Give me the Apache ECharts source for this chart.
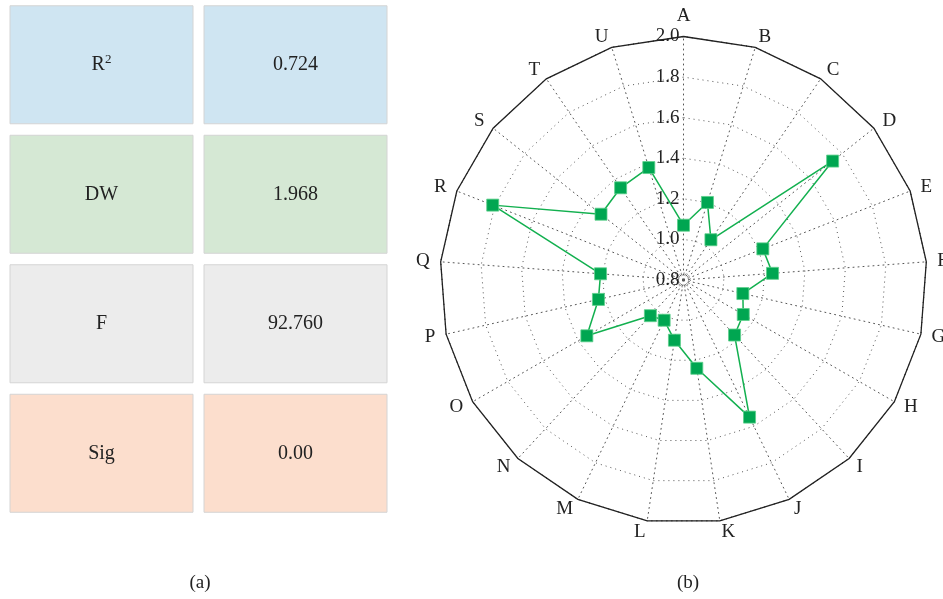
<!DOCTYPE html>
<html>
<head>
<meta charset="utf-8">
<script src="https://cdn.jsdelivr.net/npm/echarts@6/dist/echarts.min.js"></script>
<style>html,body{margin:0;padding:0;background:#fff}#c{width:943px;height:599px}</style>
</head>
<body>
<div id="c"></div>
<script>
// ---- data ----
const statNames = ['R{sup|2}', 'DW', 'F', 'Sig'];
const statValues = ['0.724', '1.968', '92.760', '0.00'];
const statColors = ['#cfe5f2', '#d5e8d4', '#ececec', '#fcdecd'];
const radarNames = ['A','B','C','D','E','F','G','H','I','J','K','L','M','N','O','P','Q','R','S','T','U'];
const radarValues = [1.07,1.20,1.04,1.74,1.22,1.24,1.10,1.14,1.17,1.55,1.24,1.10,1.02,1.04,1.35,1.23,1.21,1.81,1.32,1.35,1.38];
const radarMin = 0.8, radarMax = 2.0;
const panelLabels = ['(a)', '(b)'];

const serif = '"Liberation Serif", "DejaVu Serif", serif';
const chart = echarts.init(document.getElementById('c'), null, {renderer: 'canvas'});

// ECharts radar runs counter-clockwise: reorder so A is on top and B..U go clockwise
const order = [0].concat(radarNames.slice(1).map((_, i) => radarNames.length - 1 - i));
const indicators = order.map((idx, k) => {
  const o = {name: radarNames[idx], min: radarMin, max: radarMax};
  if (k === 0) o.axisLabel = {show: true};
  return o;
});
const orderedValues = order.map(idx => radarValues[idx]);

// table cells
const cellData = [];
statNames.forEach((n, r) => {
  cellData.push([0, r, n, statColors[r]]);
  cellData.push([1, r, statValues[r], statColors[r]]);
});

const option = {
  backgroundColor: '#fff',
  animation: false,
  title: [
    {text: panelLabels[0], left: 195, top: 569, textAlign: 'center',
     textStyle: {fontFamily: serif, fontSize: 19, fontWeight: 'normal', color: '#222'}},
    {text: panelLabels[1], left: 683, top: 569, textAlign: 'center',
     textStyle: {fontFamily: serif, fontSize: 19, fontWeight: 'normal', color: '#222'}}
  ],
  grid: {left: 4.5, top: 0, width: 388, height: 518},
  xAxis: {type: 'category', data: ['name', 'value'], show: false},
  yAxis: {type: 'category', data: statNames, inverse: true, show: false},
  radar: [
    {
      center: [683.5, 280], radius: 243.5, startAngle: 90,
      splitNumber: 6, shape: 'polygon',
      indicator: indicators,
      axisName: {color: '#222', fontFamily: serif, fontSize: 19},
      nameGap: 11,
      axisLine: {lineStyle: {color: '#555', type: [1, 4], width: 1}},
      axisTick: {show: false},
      axisLabel: {show: false, color: '#222', fontFamily: serif, fontSize: 19, margin: 4,
                  formatter: v => Number(v).toFixed(1)},
      splitLine: {lineStyle: {color: '#555', type: [1, 4], width: 1}},
      splitArea: {show: false}
    },
    {
      center: [683.5, 280], radius: 243.5, startAngle: 90,
      splitNumber: 1, shape: 'polygon',
      indicator: radarNames.map(n => ({name: '', min: 0, max: 1})),
      axisName: {show: false},
      axisLine: {show: false}, axisTick: {show: false}, axisLabel: {show: false},
      splitLine: {lineStyle: {color: '#222', width: 1.3}},
      splitArea: {show: false}
    },
    {
      center: [683.5, 280], radius: 7, startAngle: 90,
      splitNumber: 1, shape: 'circle',
      indicator: radarNames.map(n => ({name: '', min: 0, max: 1})),
      axisName: {show: false},
      axisLine: {show: false}, axisTick: {show: false}, axisLabel: {show: false},
      splitLine: {lineStyle: {color: '#666', type: [1, 2], width: 1}},
      splitArea: {show: false}
    }
  ],
  series: [
    {
      type: 'custom',
      coordinateSystem: 'cartesian2d',
      data: cellData,
      renderItem: function (params, api) {
        const p = api.coord([api.value(0), api.value(1)]);
        const sz = api.size([1, 1]);
        const w = sz[0] - 11, h = sz[1] - 11.5;
        const d = cellData[params.dataIndex];
        return {
          type: 'group',
          children: [
            {type: 'rect', shape: {x: p[0] - w / 2, y: p[1] - h / 2, width: w, height: h},
             style: {fill: d[3], stroke: '#d4d4d4', lineWidth: 1}},
            {type: 'text', x: p[0], y: p[1],
             style: {text: d[2], fill: '#222', font: '20px ' + serif, align: 'center', verticalAlign: 'middle',
               rich: {sup: {fontSize: 13, fontFamily: serif, fill: '#222', verticalAlign: 'bottom', padding: [0, 0, 10, 0]}}}}
          ]
        };
      }
    },
    {
      type: 'radar',
      radarIndex: 0,
      symbol: 'rect',
      symbolSize: 12,
      lineStyle: {color: '#12b04f', width: 1.5},
      itemStyle: {color: '#00a651', borderColor: '#5ccf8a', borderWidth: 0.8},
      data: [{value: orderedValues}]
    }
  ]
};
chart.setOption(option);
</script>
</body>
</html>
